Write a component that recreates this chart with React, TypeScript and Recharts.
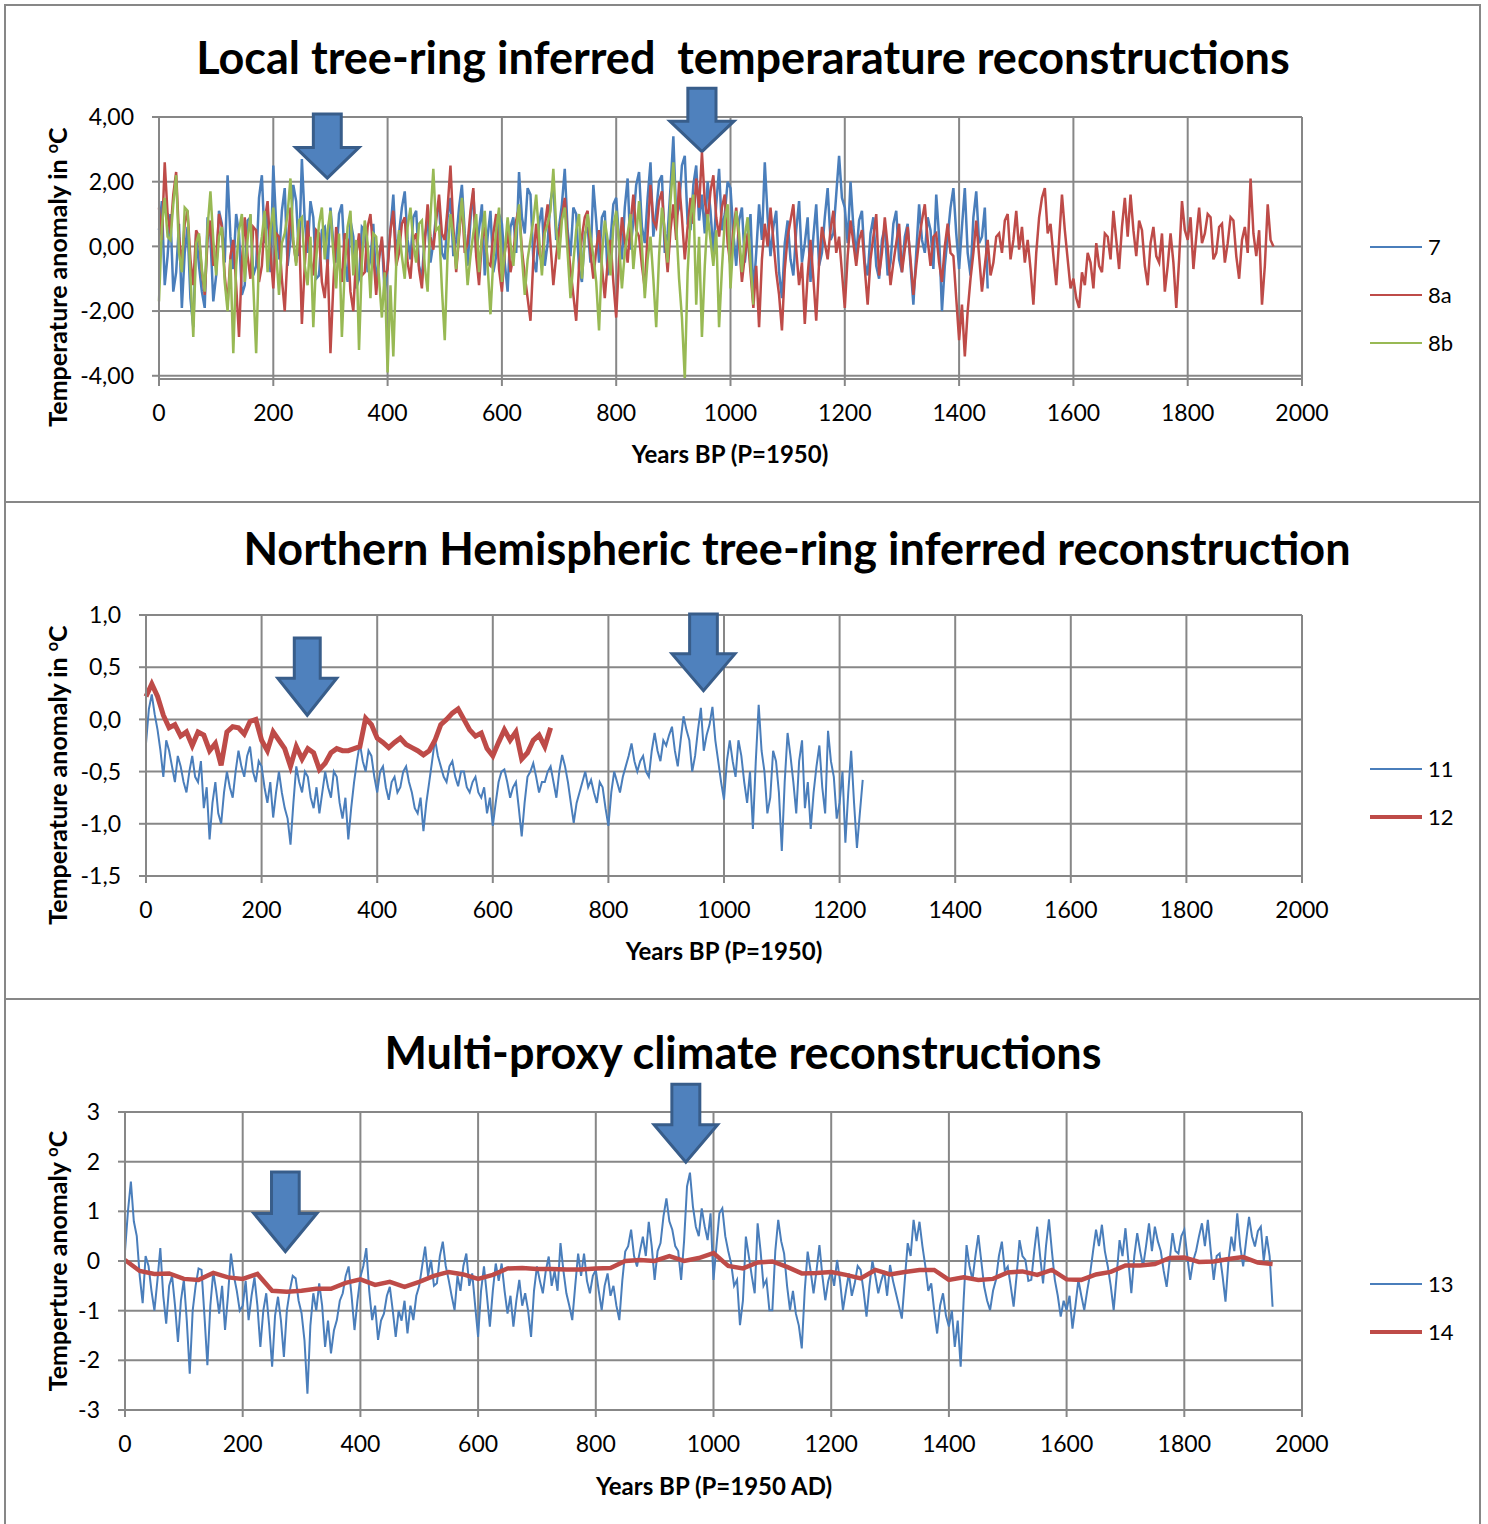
import React from 'react';
import { LineChart, Line, XAxis, YAxis, CartesianGrid, ReferenceArea } from 'recharts';

// years on the x axis
const yearTicks = [0, 200, 400, 600, 800, 1000, 1200, 1400, 1600, 1800, 2000];

// --- panel 1: local tree-ring series (one value every 5 years) ---
const series7 = [
  0.5, 1.4, -1.2, -0.3, 1.0, -1.4, -0.8, 0.7, -1.9, -0.2, 0.6, -1.6, -2.5, 0.4, -0.6, -1.4, -1.9, 0.9, 0.3, -1.7,
  -0.9, 1.1, 0.7, -0.5, 2.2, 0.3, -0.7, 1.0, 0.4, -1.5, -1.2, 0.8, 0.9, -0.9, -0.6, 1.5, 2.2, 0.1, 1.2, -0.8,
  2.5, 0.7, -0.4, 1.1, 1.8, -0.6, 0.2, 1.9, 1.4, -0.3, 2.7, 0.8, -0.2, 1.4, 0.9, -1.0, -0.9, 0.5, 0.6, -0.7,
  1.2, 0.1, -0.5, 1.0, 1.3, -0.4, -1.1, 0.8, 0.3, -1.3, -1.0, 0.6, 0.5, -0.8, -0.4, 0.7, -1.2, -0.3, 0.2, -1.5,
  -0.6, 0.5, 1.6, -0.2, 0.4, 1.2, 1.7, 0.2, -0.4, 0.9, 1.1, -0.6, -1.0, 0.3, 0.8, -0.5, 0.1, 1.0, 1.3, -0.2,
  -0.4, 0.9, 1.5, -0.3, 0.2, 1.2, 1.9, 0.4, -0.6, 0.8, 1.7, -0.2, 0.5, 1.3, -0.9, 0.3, 1.1, -0.8, -0.3, 1.0,
  0.7, -0.5, -1.4, 0.6, 0.9, -0.2, 2.3, 0.9, 0.4, 1.8, 1.6, -0.4, -0.8, 0.7, 1.2, -0.6, 0.1, 1.4, 1.9, 0.2,
  0.6, 1.3, 2.4, 0.5, -0.3, 1.2, 1.0, -0.7, -1.1, 0.4, 0.6, -0.5, 1.9, 0.8, -0.5, 0.9, 1.1, -0.9, 0.2, 1.3,
  1.5, 0.2, -0.4, 1.2, 2.1, -0.1, 0.8, 1.9, 2.3, 0.6, 0.1, 1.5, 2.6, 0.3, 1.1, 2.0, 2.2, -0.2, 0.4, 1.8,
  3.4, 0.9, 1.2, 2.5, 2.8, 0.7, 0.5, 1.9, 2.5, 0.8, 1.6, 0.4, 2.0, 1.1, -0.2, 1.3, 2.4, 0.5, 1.0, 2.0,
  1.8, 0.4, -0.6, 0.8, 1.2, -0.5, 0.3, 1.0, -1.5, -0.2, 1.3, 0.2, 2.6, 0.9, -0.3, 0.6, 1.1, -0.8, -1.6, 0.1,
  0.8, -0.4, -0.9, 0.5, 1.4, -0.5, 0.1, 0.9, -1.1, 0.3, 1.3, -0.6, -0.2, 0.9, 1.8, 0.2, 0.4, 1.6, 2.8, 1.5,
  1.2, 0.1, 2.0, 0.6, -0.3, 0.8, 1.1, -0.5, -0.9, 0.4, 0.9, -0.6, -1.0, 0.2, 0.6, -0.9, -0.5, 0.7, 1.1, -0.4,
  -0.8, 0.3, 0.7, -0.6, -1.8, -0.2, 1.3, 0.2, -0.2, 0.9, 0.5, -0.7, 1.6, 0.3, -2.0, -0.6, 0.3, 1.2, 1.8, 0.4,
  -0.7, 0.6, 1.8, -0.2, -0.9, 0.9, 1.7, 0.1, 0.3, 1.2, -1.3,
];

const series8a = [
  1.2, 0.2, 2.6, 1.0, 0.4, 1.6, 2.3, 0.3, -0.6, 0.7, 1.1, -0.4, -1.2, 0.5, 0.3, -0.8, -1.5, 0.2, 0.8, -0.6,
  -0.4, 1.0, 0.6, -0.9, -1.8, -0.3, 0.2, -1.2, -2.8, -0.5, 0.9, -0.3, -1.0, 0.6, 0.5, -1.1, -0.6, 0.8, 1.4, -0.2,
  -1.3, 0.4, 0.3, -1.0, -2.0, -0.2, 1.2, 0.1, -0.5, 0.6, -2.4, -0.6, 0.8, -0.4, -0.9, 0.5, 0.4, -1.1, -1.6, -0.4,
  -3.3, -1.2, 0.6, -0.5, -1.1, 0.4, 0.2, -1.4, -2.0, -0.3, 0.4, -0.9, -0.8, 0.6, 1.0, -0.2, -1.5, -0.4, 0.3, -1.0,
  -0.7, 0.5, 1.1, -0.6, -0.2, 0.7, 0.9, -0.5, -1.0, 0.2, 0.4, -0.7, -1.3, 0.1, 1.3, 0.3, -0.1, 0.8, 1.6, 0.4,
  0.2, 1.2, 2.5, 0.6, -0.8, 0.3, 1.4, -0.2, 0.1, 1.1, 1.8, -0.3, -1.2, 0.2, 0.6, -0.5, -0.6, 0.4, 1.0, -0.7,
  -1.4, -0.2, 0.5, -0.8, -0.3, 0.8, 1.2, -0.1, -0.9, -1.6, -2.3, -0.4, 0.7, -0.2, -0.5, 0.6, 1.3, 0.1, -1.2, -0.3,
  0.4, 0.9, 1.5, 0.2, -0.7, -1.5, -2.3, -0.6, 0.3, 0.9, 1.1, -0.2, -1.0, -0.1, 0.5, -0.6, -1.6, -0.5, 0.2, -1.1,
  -2.2, -0.4, 0.9, 0.2, -0.5, 0.7, 1.6, 0.5, 0.3, -0.6, -1.3, 0.4, 1.9, 0.8, 0.6, 1.4, 1.7, 0.3, -0.8, 0.5,
  1.3, 0.2, 2.0, 0.9, -0.4, 0.6, 1.5, 0.7, 2.1, 1.2, 2.9, 1.4, 0.8, 1.7, 2.2, 0.9, 0.3, 1.2, 1.6, 0.1,
  -0.6, 0.5, 1.2, 0.1, -1.1, -0.3, 0.4, -0.8, -1.9, -0.6, -2.5, -0.4, 0.7, 0.0, 1.2, 0.2, -0.8, -1.5, -2.6, -0.7,
  0.3, 0.8, 1.3, -0.1, -1.2, -0.5, -2.4, -0.9, 0.2, -1.0, -2.3, -0.5, 0.6, 0.1, -0.4, 0.5, 1.1, -0.2, 0.3, -0.8,
  -1.9, -0.3, 0.8, 0.1, -0.6, 0.2, 0.5, -0.7, -1.8, -0.4, 0.3, 1.0, -0.9, -0.2, 0.9, 0.0, -1.2, -0.5, 0.1, 0.7,
  -0.8, -0.1, 0.6, -0.4, -1.5, -0.6, 0.2, 0.8, 1.3, 0.2, -0.6, 0.3, 0.4, -0.5, -1.1, 0.0, 0.7, -0.2, -0.3, -1.6,
  -2.9, -1.8, -3.4, -2.0, -1.0, -0.2, 0.8, -0.3, -1.4, -0.6, 0.2, -0.9, -0.5, 0.3, 0.4, -0.2, 0.8, 1.0, -0.4, 0.2,
  1.1, -0.1, 0.6, -0.5, 0.2, -0.7, -1.8, -0.2, 0.9, 1.5, 1.8, 0.4, 0.7, -0.3, -1.2, 0.2, 1.6, 0.5, -0.4, -1.3,
  -1.0, -1.6, -1.9, -0.8, -1.2, -0.2, -0.5, -1.3, 0.1, -0.6, -0.8, 0.4, 0.3, -0.4, 1.1, 0.2, -0.7, 0.6, 1.5, 0.3,
  1.6, 0.5, -0.3, 0.8, 0.5, -0.6, -1.2, 0.1, 0.6, -0.3, -0.5, 0.4, -1.4, -0.6, 0.4, -0.5, -1.9, -0.4, 1.4, 0.5,
  0.2, 0.9, -0.7, 0.3, 1.2, 0.1, 0.4, 1.0, 0.9, -0.4, -0.2, 0.6, 0.7, -0.5, 0.1, 0.9, 0.8, -0.3, -1.0, 0.2,
  0.6, -0.2, 2.1, 0.4, -0.3, 0.5, -1.8, -0.6, 1.3, 0.2, 0.0,
];

const series8b = [
  -1.7, 0.6, 1.5, 0.3, 0.2, 1.3, 2.2, -0.2, -0.8, 1.2, 1.1, -0.9, -2.8, 0.1, 0.4, -0.7, -1.4, 0.6, 1.7, 0.2,
  -0.9, 0.3, 0.6, -1.1, -2.0, -0.4, -3.3, -0.6, 0.5, 1.0, -1.1, 0.2, 1.0, -1.2, -3.3, -0.3, 0.3, 1.1, -0.8, 0.5,
  1.2, -0.2, -1.5, 0.1, 0.4, 1.0, 2.1, 0.2, -0.6, 0.8, 0.9, -0.6, -1.2, 0.3, -2.5, -0.4, 0.7, 1.2, -0.4, 0.5,
  1.1, -0.2, -1.3, 0.4, -2.8, -0.7, 0.6, 1.1, -0.9, 0.2, -3.2, -0.5, 0.8, 0.1, -1.6, 0.4, 0.3, -1.0, -2.2, -0.8,
  -3.9, -1.2, -3.4, -0.6, 0.5, -0.3, -1.0, 0.6, 1.2, 0.1, -0.5, 0.7, 0.8, -0.6, -1.4, 0.9, 2.4, 0.5, 0.6, -1.3,
  -2.9, -0.2, 1.0, 0.3, -0.7, 0.4, 1.5, 0.2, -1.2, -0.3, 0.4, 1.0, -0.8, 0.3, 1.1, -0.6, -2.1, -0.4, 0.5, 1.2,
  -1.1, -0.2, 0.9, 0.1, -0.6, 0.5, 1.3, -0.3, -1.5, -0.4, 0.2, 0.8, 1.6, 0.3, -0.9, 0.4, 0.7, 1.1, 2.4, 0.6,
  -0.4, 0.8, 1.2, -0.2, -1.6, -0.5, 0.5, 1.0, -1.0, 0.2, 1.0, 0.3, -0.3, -1.1, -2.6, -0.3, 0.8, 0.2, -0.9, 0.6,
  1.1, 0.1, -1.3, -0.2, 0.4, 1.0, -0.7, 0.3, 1.4, 0.0, -1.6, -0.4, 0.3, -1.0, -2.5, -0.3, 1.2, 0.5, -0.5, 1.4,
  2.6, 0.7, -1.0, -2.2, -4.1, -0.8, 0.9, 1.6, -1.8, 0.3, -2.8, -0.6, 1.0, 0.2, -0.6, 0.5, -2.5, -0.7, 0.8, 1.3,
  -1.3, 0.2, 1.1, 0.4, -0.8, 0.3, 0.9, -0.5, -1.8,
];

// --- panel 2: northern hemisphere tree-ring series ---
const series11 = [
  -0.23, 0.1, 0.24, 0.05, -0.1, -0.3, -0.55, -0.2, -0.3, -0.45, -0.6, -0.35, -0.45, -0.6, -0.7, -0.5, -0.35, -0.55, -0.6, -0.4,
  -0.85, -0.65, -1.15, -0.8, -0.6, -0.9, -1.0, -0.7, -0.5, -0.65, -0.75, -0.5, -0.3, -0.45, -0.55, -0.35, -0.26, -0.5, -0.6, -0.4,
  -0.45, -0.65, -0.8, -0.6, -0.94, -0.7, -0.5, -0.7, -0.85, -0.95, -1.2, -0.8, -0.45, -0.6, -0.7, -0.5, -0.55, -0.75, -0.85, -0.65,
  -0.9, -0.7, -0.5, -0.65, -0.75, -0.5, -0.55, -0.8, -0.95, -0.75, -1.15, -0.85, -0.6, -0.4, -0.23, -0.4, -0.5, -0.3, -0.35, -0.55,
  -0.7, -0.5, -0.45, -0.65, -0.77, -0.6, -0.55, -0.7, -0.65, -0.5, -0.45, -0.6, -0.7, -0.85, -0.9, -0.75, -1.07, -0.8, -0.6, -0.4,
  -0.19, -0.35, -0.45, -0.55, -0.6, -0.45, -0.4, -0.55, -0.64, -0.5, -0.5, -0.65, -0.7, -0.6, -0.55, -0.7, -0.75, -0.65, -0.9, -0.75,
  -1.02, -0.8, -0.6, -0.5, -0.48, -0.6, -0.75, -0.65, -0.6, -0.85, -1.12, -0.8, -0.55, -0.5, -0.42, -0.55, -0.7, -0.6, -0.6, -0.5,
  -0.45, -0.6, -0.75, -0.5, -0.34, -0.45, -0.6, -0.8, -0.99, -0.8, -0.7, -0.6, -0.5, -0.65, -0.58, -0.7, -0.8, -0.6, -0.65, -0.85,
  -1.02, -0.7, -0.5, -0.6, -0.7, -0.55, -0.45, -0.35, -0.23, -0.4, -0.5, -0.4, -0.35, -0.5, -0.55, -0.3, -0.13, -0.3, -0.4, -0.2,
  -0.25, -0.15, -0.07, -0.3, -0.45, -0.2, 0.03, -0.1, -0.2, -0.5, -0.35, -0.1, 0.11, -0.3, -0.15, -0.05, 0.12, -0.2, -0.4, -0.6,
  -0.77, -0.4, -0.2, -0.4, -0.55, -0.2, -0.35, -0.6, -0.8, -0.5, -1.05, -0.4, 0.14, -0.3, -0.5, -0.9, -0.75, -0.3, -0.4, -0.7,
  -1.26, -0.6, -0.13, -0.35, -0.6, -0.9, -0.4, -0.2, -0.85, -0.6, -1.05, -0.7, -0.45, -0.25, -0.65, -0.9, -0.11, -0.4, -0.55, -0.95,
  -0.8, -0.5, -1.18, -0.7, -0.3, -0.8, -1.23, -0.9, -0.58,
];

// smoothed hemispheric curve, one value every 10 years
const series12 = [
  0.22, 0.34, 0.22, 0.04, -0.08, -0.05, -0.16, -0.12, -0.25, -0.12,
  -0.15, -0.3, -0.23, -0.44, -0.12, -0.07, -0.08, -0.14, -0.02, 0.0,
  -0.2, -0.3, -0.12, -0.2, -0.28, -0.45, -0.26, -0.38, -0.28, -0.32,
  -0.48, -0.42, -0.32, -0.28, -0.3, -0.3, -0.28, -0.26, 0.01, -0.05,
  -0.18, -0.22, -0.27, -0.22, -0.18, -0.24, -0.27, -0.3, -0.34, -0.3,
  -0.2, -0.05, 0.0, 0.06, 0.1, 0.0, -0.1, -0.16, -0.13, -0.28,
  -0.35, -0.22, -0.1, -0.2, -0.12, -0.38, -0.32, -0.2, -0.15, -0.26,
  -0.08,
];

// --- panel 3: multi-proxy series, one value every 5 years ---
const series13 = [
  0.2, 1.0, 1.6, 0.8, 0.5, -0.3, -0.85, 0.1, -0.1, -0.6, -1.0, -0.4, 0.26, -0.7, -1.26, -0.5, -0.3, -0.9, -1.63, -0.8,
  -0.38, -1.2, -2.27, -1.0, -0.5, -0.15, -0.18, -1.1, -2.1, -0.9, -0.22, -0.6, -1.06, -0.5, -1.39, -0.7, 0.15, -0.3, -0.6, -1.0,
  -0.9, -0.4, -1.19, -0.7, -0.33, -0.9, -1.73, -1.0, -0.65, -1.3, -2.13, -1.1, -0.72, -1.2, -1.93, -1.0, -0.6, -0.3, -0.35, -0.8,
  -1.05, -1.6, -2.67, -1.3, -0.65, -1.0, -0.45, -0.9, -1.73, -1.2, -1.86, -1.4, -1.19, -0.8, -0.65, -0.3, -0.11, -0.7, -1.39, -0.8,
  -0.32, -0.1, 0.26, -0.6, -1.19, -0.9, -1.59, -1.2, -1.06, -0.7, -0.52, -1.0, -1.53, -1.0, -1.2, -0.8, -1.46, -0.9, -1.19, -0.7,
  -0.5, -0.1, 0.29, -0.3, 0.02, -0.5, -0.45, 0.1, 0.39, -0.1, -0.38, -0.7, -0.99, -0.3, -0.6, -0.1, 0.15, -0.5, -0.25, -0.9,
  -1.53, -0.6, -0.11, -0.7, -1.32, -0.6, -0.05, -0.4, -0.05, -0.6, -1.06, -0.7, -1.32, -0.8, -0.38, -0.9, -0.65, -1.0, -1.53, -0.6,
  -0.11, -0.4, -0.65, -0.2, 0.09, -0.5, -0.2, -0.6, 0.36, -0.2, -0.65, -0.9, -1.19, -0.5, 0.15, -0.3, 0.15, -0.4, -0.65, -0.3,
  -0.18, -0.6, -0.99, -0.5, -0.25, -0.7, -0.5, -0.9, -1.19, -0.4, 0.19, 0.3, 0.63, 0.1, -0.11, 0.2, 0.49, 0.1, 0.79, 0.3,
  -0.38, 0.2, 0.36, 0.9, 1.26, 0.8, 0.63, 0.3, 0.2, -0.38, 0.4, 1.5, 1.78, 1.1, 0.69, 0.5, 1.06, 0.7, 0.42, 0.96,
  -0.38, 0.3, 0.96, 1.06, 0.5, 0.2, -0.05, -0.5, -0.38, -1.29, -0.8, 0.49, 0.1, -0.3, -0.65, 0.76, 0.2, -0.5, -0.38, -0.99,
  -0.99, 0.2, 0.83, 0.4, 0.15, -0.5, -0.99, -0.6, -1.06, -1.3, -1.76, -0.6, 0.19, -0.2, -0.65, -0.2, 0.32, -0.3, -0.79, -0.4,
  -0.2, -0.5, 0.02, -0.4, -0.99, -0.6, -0.25, -0.7, -0.45, -0.1, -0.18, -0.6, -1.12, -0.5, 0.0, -0.3, -0.65, -0.4, -0.2, -0.7,
  -0.08, -0.4, -0.65, -0.9, -1.16, -0.4, 0.36, 0.1, 0.83, 0.4, 0.79, 0.3, -0.11, -0.6, -0.45, -1.0, -1.46, -0.9, -0.65, -1.1,
  -1.32, -1.0, -1.73, -1.2, -2.13, -0.8, 0.32, -0.1, -0.38, 0.1, 0.52, 0.0, -0.52, -0.8, -0.99, -0.6, -0.38, 0.1, 0.39, -0.2,
  -0.11, -0.5, -0.92, -0.3, 0.42, 0.1, 0.02, -0.4, -0.38, 0.2, 0.69, 0.1, -0.45, 0.3, 0.84, 0.2, -0.38, -0.7, -1.12, -0.8,
  -0.99, -0.7, -1.36, -0.9, -0.38, -0.7, -0.99, -0.6, -0.25, 0.2, 0.63, 0.3, 0.73, 0.2, -0.11, -0.5, -0.99, -0.3, 0.42, 0.1,
  0.66, 0.0, -0.65, 0.1, 0.56, 0.2, -0.11, 0.3, 0.76, 0.2, 0.69, 0.4, 0.2, -0.2, -0.52, 0.0, 0.56, 0.2, 0.15, 0.5,
  0.63, 0.1, -0.38, 0.0, 0.2, 0.5, 0.76, 0.3, 0.83, 0.2, -0.38, 0.1, 0.15, -0.3, -0.82, 0.0, 0.49, 0.2, 0.96, 0.3,
  -0.11, 0.4, 0.89, 0.5, 0.29, 0.6, 0.69, 0.0, 0.5, 0.1, -0.92,
];

// smoothed multi-proxy curve, one value every 25 years
const series14 = [
  0.02, -0.2, -0.26, -0.25, -0.36, -0.38, -0.24, -0.33, -0.36, -0.26,
  -0.6, -0.62, -0.6, -0.56, -0.56, -0.44, -0.37, -0.48, -0.42, -0.52,
  -0.42, -0.3, -0.22, -0.27, -0.36, -0.28, -0.15, -0.14, -0.16, -0.16,
  -0.17, -0.17, -0.15, -0.14, 0.0, 0.02, 0.0, 0.1, 0.0, 0.06,
  0.16, -0.1, -0.15, -0.03, -0.01, -0.12, -0.25, -0.24, -0.22, -0.28,
  -0.35, -0.18, -0.27, -0.22, -0.18, -0.18, -0.38, -0.33, -0.38, -0.36,
  -0.23, -0.21, -0.28, -0.18, -0.37, -0.38, -0.27, -0.22, -0.09, -0.09,
  -0.06, 0.06, 0.07, -0.02, -0.01, 0.04, 0.08, -0.03, -0.06,
];

// arrow annotations, in data units: year span of the head, top of the shaft, tip
const arrows1 = [
  { x1: 239, x2: 350, top: 4.09, tip: 2.11 },
  { x1: 894, x2: 1006, top: 4.89, tip: 2.93 },
];
const arrows2 = [
  { x1: 228, x2: 330, top: 0.78, tip: 0.04 },
  { x1: 910, x2: 1019, top: 1.01, tip: 0.275 },
];
const arrows3 = [
  { x1: 219, x2: 326, top: 1.79, tip: 0.19 },
  { x1: 899, x2: 1007, top: 3.56, tip: 1.99 },
];

const BLUE = '#4a7ebb';
const RED = '#be4b48';
const GREEN = '#98b954';
const GRID = '#878787';
const FONT = 'Lato, "Open Sans", sans-serif';

const toRows = (values: number[], step: number) =>
  values.map((v, i) => ({ year: i * step, value: v }));

const ArrowShape = (props: any) => {
  const { x, y, width, height } = props;
  const shaft = width * 0.44;
  const headY = y + height * 0.52;
  const cx = x + width / 2;
  const d =
    `M${cx - shaft / 2},${y} L${cx + shaft / 2},${y} L${cx + shaft / 2},${headY} ` +
    `L${x + width},${headY} L${cx},${y + height} L${x},${headY} L${cx - shaft / 2},${headY} Z`;
  return <path d={d} fill="#4f81bd" stroke="#385d8a" strokeWidth={3} />;
};

interface SeriesDef {
  name: string;
  values: number[];
  step: number;
  color: string;
  width: number;
}

interface PanelProps {
  top: number;
  height: number;
  plotLeft: number;
  plotTop: number;
  plotBottom: number;
  yDomain: [number, number];
  yTicks: number[];
  yFormat: (v: number) => string;
  series: SeriesDef[];
  arrows: { x1: number; x2: number; top: number; tip: number }[];
}

const Panel = ({ top, height, plotLeft, plotTop, plotBottom, yDomain, yTicks, yFormat, series, arrows }: PanelProps) => {
  const tickStyle = { fill: '#000', fontSize: 23, fontFamily: FONT };
  return (
    <div style={{ position: 'absolute', left: 5, top, width: 1477, height }}>
      <LineChart
        width={1477}
        height={height}
        margin={{ top: plotTop, right: 180, bottom: height - plotBottom - 30, left: 0 }}
      >
        <CartesianGrid stroke={GRID} strokeWidth={2} />
        <XAxis
          type="number"
          dataKey="year"
          domain={[0, 2000]}
          ticks={yearTicks}
          height={30}
          tick={tickStyle}
          tickSize={7}
          tickMargin={19}
          axisLine={{ stroke: GRID, strokeWidth: 2 }}
          tickLine={{ stroke: GRID, strokeWidth: 2 }}
          allowDuplicatedCategory={false}
        />
        <YAxis
          type="number"
          domain={yDomain}
          ticks={yTicks}
          width={plotLeft}
          tick={tickStyle}
          tickFormatter={yFormat}
          tickSize={7}
          tickMargin={18}
          axisLine={{ stroke: GRID, strokeWidth: 2 }}
          tickLine={{ stroke: GRID, strokeWidth: 2 }}
        />
        {series.map((s) => (
          <Line
            key={s.name}
            data={toRows(s.values, s.step)}
            dataKey="value"
            name={s.name}
            type="linear"
            stroke={s.color}
            strokeWidth={s.width}
            dot={false}
            activeDot={false}
            isAnimationActive={false}
          />
        ))}
        {arrows.map((a, i) => (
          <ReferenceArea
            key={i}
            x1={a.x1}
            x2={a.x2}
            y1={a.tip}
            y2={a.top}
            ifOverflow="visible"
            shape={<ArrowShape />}
          />
        ))}
      </LineChart>
    </div>
  );
};

const Text = ({ x, y, size, bold, rotate, children }: any) => (
  <div
    style={{
      position: 'absolute',
      left: x,
      top: y,
      transform: `translate(-50%, -50%)${rotate ? ' rotate(-90deg)' : ''}`,
      fontFamily: FONT,
      fontSize: size,
      fontWeight: bold ? 700 : 400,
      whiteSpace: 'pre',
      lineHeight: 1,
      color: '#000',
    }}
  >
    {children}
  </div>
);

const LegendItem = ({ y, color, width, label }: any) => (
  <div style={{ position: 'absolute', left: 1370, top: y - 12, height: 24, display: 'flex', alignItems: 'center' }}>
    <div style={{ width: 52, height: width, background: color }} />
    <span style={{ marginLeft: 6, fontFamily: FONT, fontSize: 22, lineHeight: 1 }}>{label}</span>
  </div>
);

const Deg = () => <span style={{ fontSize: '0.65em', verticalAlign: '0.55em' }}>o</span>;

const comma = (digits: number) => (v: number) => v.toFixed(digits).replace('.', ',');

export default function App() {
  return (
    <div style={{ position: 'absolute', left: 0, top: 0, width: 1488, height: 1524, background: '#fff', overflow: 'hidden' }}>
      {/* frame */}
      <div style={{ position: 'absolute', left: 4, top: 4, width: 1477, height: 1540, border: `2px solid ${GRID}`, boxSizing: 'border-box' }} />
      <div style={{ position: 'absolute', left: 4, top: 501, width: 1477, height: 2, background: GRID }} />
      <div style={{ position: 'absolute', left: 4, top: 998, width: 1477, height: 2, background: GRID }} />

      <Panel
        top={5}
        height={497}
        plotLeft={154}
        plotTop={112}
        plotBottom={374}
        yDomain={[-4, 4]}
        yTicks={[-4, -2, 0, 2, 4]}
        yFormat={comma(2)}
        series={[
          { name: '7', values: series7, step: 5, color: BLUE, width: 2.5 },
          { name: '8a', values: series8a, step: 5, color: RED, width: 2.5 },
          { name: '8b', values: series8b, step: 5, color: GREEN, width: 2.5 },
        ]}
        arrows={arrows1}
      />
      <Text x={743} y={57} size={45} bold>{'Local tree-ring inferred  temperarature reconstructions'}</Text>
      <Text x={730} y={454} size={24} bold>Years BP (P=1950)</Text>
      <Text x={57} y={277} size={25} bold rotate>Temperature anomaly in <Deg />C</Text>
      <LegendItem y={247} color={BLUE} width={2} label="7" />
      <LegendItem y={295} color={RED} width={2} label="8a" />
      <LegendItem y={343} color={GREEN} width={2} label="8b" />

      <Panel
        top={502}
        height={497}
        plotLeft={141}
        plotTop={113}
        plotBottom={374}
        yDomain={[-1.5, 1]}
        yTicks={[-1.5, -1, -0.5, 0, 0.5, 1]}
        yFormat={comma(1)}
        series={[
          { name: '11', values: series11, step: 5, color: BLUE, width: 2 },
          { name: '12', values: series12, step: 10, color: RED, width: 5 },
        ]}
        arrows={arrows2}
      />
      <Text x={797} y={548} size={45} bold>Northern Hemispheric tree-ring inferred reconstruction</Text>
      <Text x={724} y={951} size={24} bold>Years BP (P=1950)</Text>
      <Text x={57} y={775} size={25} bold rotate>Temperature anomaly in <Deg />C</Text>
      <LegendItem y={769} color={BLUE} width={2} label="11" />
      <LegendItem y={817} color={RED} width={4.5} label="12" />

      <Panel
        top={999}
        height={530}
        plotLeft={120}
        plotTop={113}
        plotBottom={411}
        yDomain={[-3, 3]}
        yTicks={[-3, -2, -1, 0, 1, 2, 3]}
        yFormat={(v: number) => String(v)}
        series={[
          { name: '13', values: series13, step: 5, color: BLUE, width: 2 },
          { name: '14', values: series14, step: 25, color: RED, width: 4.5 },
        ]}
        arrows={arrows3}
      />
      <Text x={743} y={1052} size={45} bold>Multi-proxy climate reconstructions</Text>
      <Text x={714} y={1486} size={24} bold>Years BP (P=1950 AD)</Text>
      <Text x={57} y={1261} size={25} bold rotate>Temperture anomaly <Deg />C</Text>
      <LegendItem y={1284} color={BLUE} width={2} label="13" />
      <LegendItem y={1332} color={RED} width={4.5} label="14" />
    </div>
  );
}
